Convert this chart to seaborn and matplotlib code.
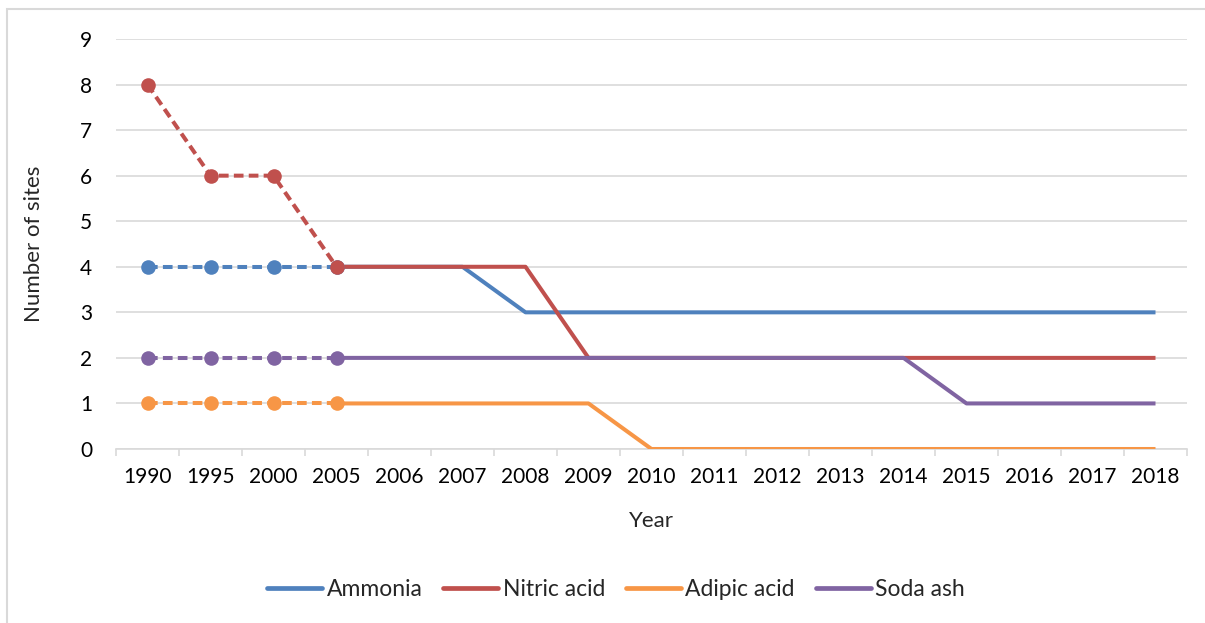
import matplotlib
matplotlib.use("Agg")
import matplotlib.pyplot as plt
from matplotlib.lines import Line2D
from matplotlib.patches import Rectangle
import seaborn as sns
import pandas as pd
import numpy as np

years = ["1990", "1995", "2000", "2005", "2006", "2007", "2008", "2009", "2010",
         "2011", "2012", "2013", "2014", "2015", "2016", "2017", "2018"]
series_names = ["Ammonia", "Nitric acid", "Adipic acid", "Soda ash"]
ammonia = [4, 4, 4, 4, 4, 4, 3, 3, 3, 3, 3, 3, 3, 3, 3, 3, 3]
nitric_acid = [8, 6, 6, 4, 4, 4, 4, 2, 2, 2, 2, 2, 2, 2, 2, 2, 2]
adipic_acid = [1, 1, 1, 1, 1, 1, 1, 1, 0, 0, 0, 0, 0, 0, 0, 0, 0]
soda_ash = [2, 2, 2, 2, 2, 2, 2, 2, 2, 2, 2, 2, 2, 1, 1, 1, 1]
colors = ["#4F81BD", "#C0504D", "#F79646", "#8064A2"]
split_year = "2005"

values = [ammonia, nitric_acid, adipic_acid, soda_ash]
rows = []
for name, vals in zip(series_names, values):
    for i, (yr, v) in enumerate(zip(years, vals)):
        rows.append({"Year": i, "label": yr, "Sites": v, "Series": name})
df = pd.DataFrame(rows)
split_idx = years.index(split_year)
hist = df[df["Year"] <= split_idx]
recent = df[df["Year"] >= split_idx]

sns.set_theme(style="white")
plt.rcParams["font.family"] = ["Lato", "DejaVu Sans"]

fig = plt.figure(figsize=(12.05, 6.23), dpi=100)
ax = fig.add_axes([116 / 1205, 1 - 449 / 623, (1187 - 116) / 1205, (449 - 39) / 623])

palette = dict(zip(series_names, colors))
lw = 2.9
# solid recent parts
for name in series_names:
    sns.lineplot(data=recent[recent["Series"] == name], x="Year", y="Sites",
                 color=palette[name], lw=lw, ax=ax, legend=False, zorder=3,
                 solid_capstyle="butt")
# dashed historical parts with markers
for name in series_names:
    sns.lineplot(data=hist[hist["Series"] == name], x="Year", y="Sites",
                 color=palette[name], lw=lw, ax=ax, legend=False, zorder=4,
                 marker="o", markersize=10.5, markeredgewidth=0,
                 dashes=False, linestyle=(0, (2.4, 1.3)), dash_capstyle="butt")

ax.set_xlim(-0.5, len(years) - 0.5)
ax.set_ylim(0, 9)
ax.set_yticks(range(0, 10))
ax.set_xticks(range(len(years)))
ax.set_xticklabels(years)
ax.set_xticks(np.arange(-0.5, len(years), 1.0), minor=True)
ax.yaxis.grid(True, color="#D9D9D9", lw=1.2)
ax.xaxis.grid(False)
for s in ["top", "right", "left"]:
    ax.spines[s].set_visible(False)
ax.spines["bottom"].set_color("#D9D9D9")
ax.spines["bottom"].set_linewidth(1.2)
ax.tick_params(axis="x", which="major", length=0, pad=13, labelsize=15, colors="black")
ax.tick_params(axis="x", which="minor", length=5, width=1.2, color="#D9D9D9", direction="out", bottom=True)
ax.tick_params(axis="y", length=0, pad=17, labelsize=15, colors="black")
ax.set_xlabel("Year", fontsize=16, labelpad=17)
ax.set_ylabel("Number of sites", fontsize=16, labelpad=26)

handles = [Line2D([0], [0], color=c, lw=3.4, solid_capstyle="round") for c in colors]
fig.legend(handles, series_names, loc="center", bbox_to_anchor=(616 / 1205, 1 - 590 / 623),
           ncol=4, frameon=False, fontsize=16.5, handlelength=2.4, handletextpad=0.2,
           columnspacing=0.9)

fig.patches.append(Rectangle((7 / 1205, -0.1), 1.2, 1 - 9 / 623 + 0.1, transform=fig.transFigure,
                             fill=False, edgecolor="#D9D9D9", lw=1.5, zorder=0))

fig.savefig("out.png", dpi=100, facecolor="white")
